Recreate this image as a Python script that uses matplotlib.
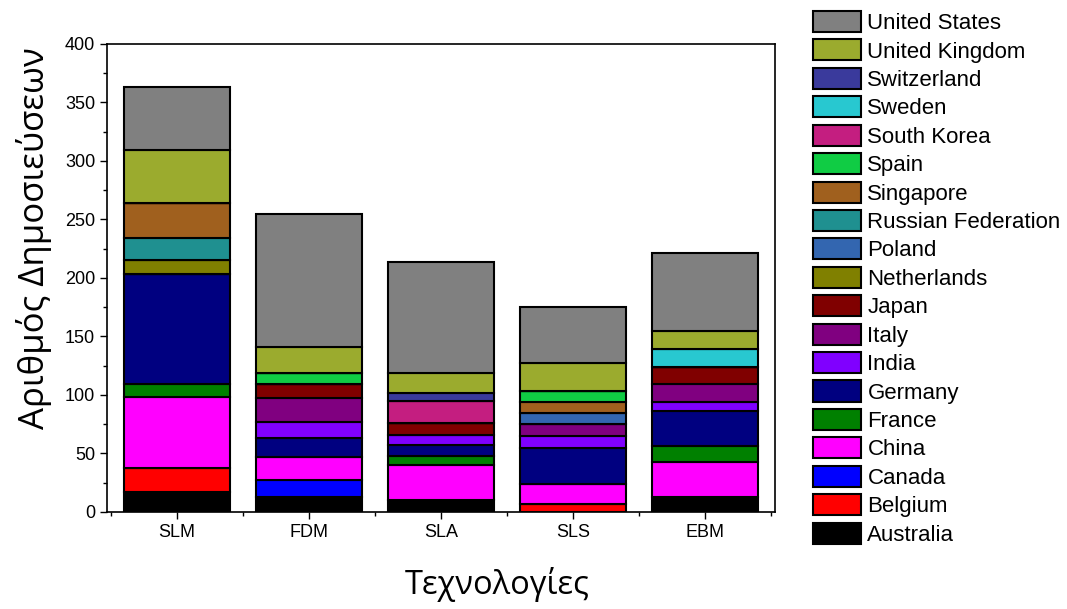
import numpy as np
import matplotlib
matplotlib.use("Agg")
import matplotlib.pyplot as plt
from matplotlib.ticker import MultipleLocator

plt.rcParams['font.family'] = ['Liberation Sans', 'DejaVu Sans']

technologies = ['SLM', 'FDM', 'SLA', 'SLS', 'EBM']

# publications per country, order: SLM, FDM, SLA, SLS, EBM
countries = ['Australia', 'Belgium', 'Canada', 'China', 'France', 'Germany',
             'India', 'Italy', 'Japan', 'Netherlands', 'Poland',
             'Russian Federation', 'Singapore', 'Spain', 'South Korea',
             'Sweden', 'Switzerland', 'United Kingdom', 'United States']
australia = [17, 13, 10, 0, 13]
belgium = [21, 0, 0, 7, 0]
canada = [0, 14, 0, 0, 0]
china = [60, 20, 30, 17, 30]
france = [11, 0, 8, 0, 13]
germany = [94, 16, 9, 31, 30]
india = [0, 14, 9, 10, 8]
italy = [0, 20, 0, 10, 15]
japan = [0, 12, 10, 0, 15]
netherlands = [12, 0, 0, 0, 0]
poland = [0, 0, 0, 10, 0]
russia = [19, 0, 0, 0, 0]
singapore = [30, 0, 0, 9, 0]
spain = [0, 10, 0, 9, 0]
south_korea = [0, 0, 19, 0, 0]
sweden = [0, 0, 0, 0, 15]
switzerland = [0, 0, 7, 0, 0]
uk = [45, 22, 17, 24, 16]
us = [54, 114, 95, 48, 66]

series = [australia, belgium, canada, china, france, germany, india, italy,
          japan, netherlands, poland, russia, singapore, spain, south_korea,
          sweden, switzerland, uk, us]
colors = ['#000000', '#ff0000', '#0000ff', '#ff00ff', '#008000', '#000080',
          '#8000ff', '#800080', '#800000', '#808000', '#3366b0', '#1f9090',
          '#a0601e', '#10cc44', '#c41e80', '#28c8d0', '#3a3a9c', '#9bab2e',
          '#808080']

fig = plt.figure(figsize=(10.67, 6.09), dpi=100)
ax = fig.add_axes([0.1003, 0.1593, 0.626, 0.7685])

x = np.arange(len(technologies))
bottom = np.zeros(len(technologies))
handles = []
for name, vals, c in zip(countries, series, colors):
    vals = np.array(vals, dtype=float)
    b = ax.bar(x, vals, 0.8, bottom=bottom, color=c, edgecolor='black',
               linewidth=1.5, label=name)
    handles.append(b)
    bottom += vals

ax.set_xlim(-0.53, 4.53)
ax.set_ylim(0, 400)
ax.set_xticks(x)
ax.set_xticklabels(technologies, fontsize=13)
ax.xaxis.set_minor_locator(MultipleLocator(0.5))
ax.yaxis.set_major_locator(MultipleLocator(50))
ax.yaxis.set_minor_locator(MultipleLocator(25))
ax.tick_params(axis='y', labelsize=13)
ax.tick_params(which='major', length=5, width=1)
ax.tick_params(which='minor', length=3, width=1)
for s in ax.spines.values():
    s.set_linewidth(1.2)

ax.set_ylabel('Αριθμός Δημοσιεύσεων', fontsize=25,
              family=['Open Sans', 'DejaVu Sans'])
ax.yaxis.set_label_coords(-0.083, 0.585)
ax.set_xlabel('Τεχνολογίες', fontsize=23.5,
              family=['Open Sans', 'DejaVu Sans'])
ax.xaxis.set_label_coords(0.584, -0.118)

leg = ax.legend(handles[::-1], countries[::-1], loc='upper left',
                bbox_to_anchor=(813 / 1067, 1 - 11 / 609),
                bbox_transform=fig.transFigure, frameon=False, fontsize=16,
                handlelength=2.15, handleheight=1.08, labelspacing=0.24,
                handletextpad=0.3, borderaxespad=0, borderpad=0)

fig.savefig('out.png', dpi=100)
